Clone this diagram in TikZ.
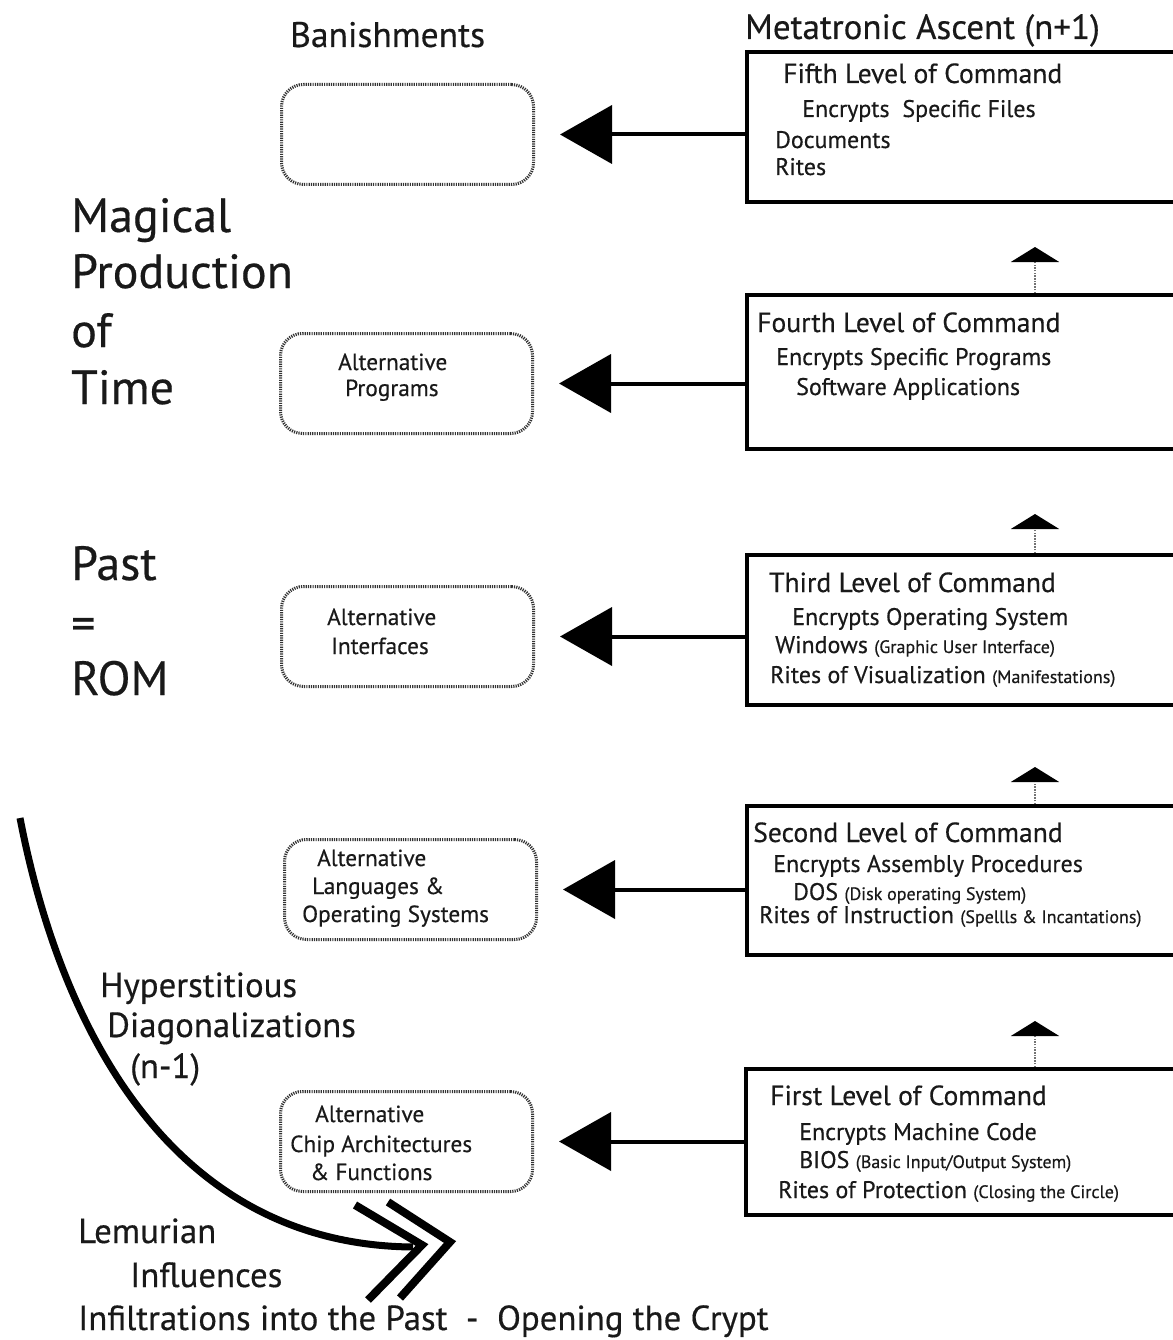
\documentclass[tikz,border=0pt]{standalone}
\usepackage{fontspec}
\setmainfont[FakeBold=0.4]{PT Sans}
\usetikzlibrary{arrows.meta,calc}
\newcommand{\setfs}[1]{\fontsize{#1}{#1}\selectfont}
\begin{document}
\begin{tikzpicture}[x=1pt,y=-1pt,
  levelbox/.style={draw, line width=4pt, rectangle, anchor=north west, inner sep=0pt, minimum width=445pt},
  banbox/.style={draw=black!80, line width=3pt, dash pattern=on 1.2pt off 1.1pt, rounded corners=22pt, anchor=north west, inner sep=0pt, minimum width=252pt, minimum height=100pt},
  lefttip/.style={line width=4pt, -{Triangle[length=52pt,width=58pt]}, shorten >=25pt},
  uparrow/.style={draw=black!55, line width=2.5pt, dash pattern=on 1.5pt off 1.2pt, -{Triangle[length=15pt,width=48pt,color=black]}},
  txt/.style={anchor=base west, inner sep=0pt, text=black!90},
  ttl/.style={txt, font=\setfs{27.6}},
  sub/.style={txt, font=\setfs{24}},
  bt/.style={txt, font=\setfs{23.3}},
  big/.style={txt, font=\setfs{48}},
  mid/.style={txt, font=\setfs{34.8}},
  chev/.style={line width=8pt, miter limit=10}
]
\useasboundingbox (0,0) rectangle (1172,1340);
\fill[white] (0,0) rectangle (1172,1340);

% headings
\node[txt, font=\setfs{35.5}] (hban) at (290,47) {Banishments};
\node[txt, font=\setfs{35}] (hmet) at (745,39) {Metatronic Ascent (n+1)};

% level boxes
\node[levelbox, minimum height=150pt] (L5) at (745,50) {};
\node[levelbox, minimum height=154pt] (L4) at (745,293) {};
\node[levelbox, minimum height=150pt] (L3) at (745,553) {};
\node[levelbox, minimum height=149pt] (L2) at (745,804) {};
\node[levelbox, minimum height=146pt] (L1) at (744,1067) {};

% banishment boxes
\node[banbox] (B1) at (280,83) {};
\node[banbox] (B2) at (279,332) {};
\node[banbox] (B3) at (280,585) {};
\node[banbox] (B4) at (283,838) {};
\node[banbox] (B5) at (279,1090) {};

% left arrows
\draw[lefttip] (L5.west |- B1.east) -- (B1.east);
\draw[lefttip] (L4.west |- B2.east) -- (B2.east);
\draw[lefttip] (L3.west |- B3.east) -- (B3.east);
\draw[lefttip] (L2.west |- B4.east) -- (B4.east);
\draw[lefttip] (L1.west |- B5.east) -- (B5.east);

% up arrows
\coordinate (ux) at (1035,0);
\draw[uparrow] (L4.north -| ux) -- ++(0,-46);
\draw[uparrow] (L3.north -| ux) -- ++(0,-39);
\draw[uparrow] (L2.north -| ux) -- ++(0,-37);
\draw[uparrow] (L1.north -| ux) -- ++(0,-46);

% level texts
\node[ttl] (t5a) at (783,83) {Fifth Level of Command};
\node[sub] (t5b) at (802,117) {Encrypts\ \ Specific Files};
\node[sub] (t5c) at (775,148) {Documents};
\node[sub] (t5d) at (775,175) {Rites};

\node[ttl] (t4a) at (757,332) {Fourth Level of Command};
\node[sub] (t4b) at (776,365) {Encrypts Specific Programs};
\node[sub] (t4c) at (796,395) {Software Applications};

\node[ttl] (t3a) at (769,592) {Third Level of Command};
\node[sub] (t3b) at (792,625) {Encrypts Operating System};
\node[sub] (t3c) at (775,653) {Windows {\setfs{18}(Graphic User Interface)}};
\node[sub] (t3d) at (770,683) {Rites of Visualization {\setfs{18}(Manifestations)}};

\node[ttl] (t2a) at (753,842) {Second Level of Command};
\node[sub] (t2b) at (773,872) {Encrypts Assembly Procedures};
\node[sub] (t2c) at (793,900) {DOS {\setfs{18}(Disk operating System)}};
\node[sub] (t2d) at (759,923) {Rites of Instruction {\setfs{18}(Spellls \& Incantations)}};

\node[ttl] (t1a) at (770,1105) {First Level of Command};
\node[sub] (t1b) at (799,1140) {Encrypts Machine Code};
\node[sub] (t1c) at (799,1168) {BIOS {\setfs{18}(Basic Input/Output System)}};
\node[sub] (t1d) at (778,1198) {Rites of Protection {\setfs{18}(Closing the Circle)}};

% banishment box texts
\node[bt] (b2a) at (338,370) {Alternative};
\node[bt] (b2b) at (345,396) {Programs};
\node[bt] (b3a) at (327,625) {Alternative};
\node[bt] (b3b) at (331,654) {Interfaces};
\node[bt] (b4a) at (317,866) {Alternative};
\node[bt] (b4b) at (312,894) {Languages \&};
\node[bt] (b4c) at (302,922) {Operating Systems};
\node[bt] (b5a) at (315,1122) {Alternative};
\node[bt] (b5b) at (290,1152) {Chip Architectures};
\node[bt] (b5c) at (310,1180) {\& Functions};

% left texts
\node[big] (m1) at (71,232) {Magical};
\node[big] (m2) at (71,288) {Production};
\node[big] (m3) at (71,347) {of};
\node[big] (m4) at (71,404) {Time};
\node[big] (p1) at (71,580) {Past};
\node[big] (p2) at (71,640) {=};
\node[big] (p3) at (71,695) {ROM};

\node[mid] (h1) at (100,997) {Hyperstitious};
\node[mid] (h2) at (107,1037) {Diagonalizations};
\node[mid] (h3) at (130,1078) {(n-1)};

\node[mid] (l1) at (78,1243) {Lemurian};
\node[mid] (l2) at (130,1287) {Influences};
\node[mid] (l3) at (78,1330) {Infiltrations into the Past\ \ -\ \ Opening the Crypt};

% curved arrow
\coordinate (cs) at (20,818);
\coordinate (ce) at (413,1247);
\draw[line width=7pt] (cs) .. controls (62,1035) and (175,1245) .. (ce);
\coordinate (c1a) at (355,1205);
\coordinate (c1t) at (422,1245);
\coordinate (c1b) at (368,1300);
\coordinate (c2a) at (388,1202);
\coordinate (c2t) at (450,1242);
\coordinate (c2b) at (400,1298);
\draw[chev] (c1a) -- (c1t) -- (c1b);
\draw[chev] (c2a) -- (c2t) -- (c2b);
\end{tikzpicture}
\end{document}
